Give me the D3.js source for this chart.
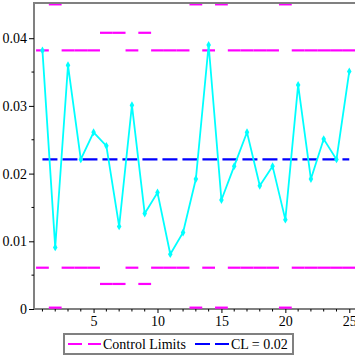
<!DOCTYPE html>
<html>
<head>
<meta charset="utf-8">
<script src="https://cdn.jsdelivr.net/npm/d3@7"></script>
<style>
  body { margin: 0; background: #fff; }
  svg { display: block; }
  text { font-family: "Liberation Serif", "Times New Roman", serif; font-size: 14px; fill: #000; }
</style>
</head>
<body>
<svg id="chart" width="355" height="355"></svg>
<script>
// sample number and the observed rate
const samples = [1, 2, 3, 4, 5, 6, 7, 8, 9, 10, 11, 12, 13, 14, 15, 16, 17, 18, 19, 20, 21, 22, 23, 24, 25];
const rates = [0.0382, 0.0091, 0.0360, 0.0221, 0.0261, 0.0241, 0.0122, 0.0301, 0.0141, 0.0172,
               0.0081, 0.0113, 0.0192, 0.0390, 0.0161, 0.0211, 0.0261, 0.0182, 0.0211, 0.0132,
               0.0331, 0.0192, 0.0251, 0.0221, 0.0351];
// control limits per sample
const upperLimits = [0.0382, 0.0450, 0.0382, 0.0382, 0.0382, 0.0408, 0.0408, 0.0382, 0.0408, 0.0382,
                     0.0382, 0.0382, 0.0450, 0.0382, 0.0450, 0.0382, 0.0382, 0.0382, 0.0382, 0.0450,
                     0.0382, 0.0382, 0.0382, 0.0382, 0.0382];
const lowerLimits = [0.0061, 0.0002, 0.0061, 0.0061, 0.0061, 0.0037, 0.0037, 0.0061, 0.0037, 0.0061,
                     0.0061, 0.0061, 0.0002, 0.0061, 0.0002, 0.0061, 0.0061, 0.0061, 0.0061, 0.0002,
                     0.0061, 0.0061, 0.0061, 0.0061, 0.0061];
const centerLine = 0.0221;
const xTicks = [5, 10, 15, 20, 25];
const yTicks = [0, 0.01, 0.02, 0.03, 0.04];
const yTickLabels = ["0", "0.01", "0.02", "0.03", "0.04"];
const legendLabels = ["Control Limits", "CL = 0.02"];

var svg = d3.select("#chart"),
    margin = { top: 3, right: 1, bottom: 46, left: 34 },
    width = +svg.attr("width") - margin.left - margin.right,
    height = +svg.attr("height") - margin.top - margin.bottom;

var x = d3.scaleLinear().domain([0.34, 25.37]).range([0, width]),
    y = d3.scaleLinear().domain([0, 0.0452]).range([height, 0]);

var g = svg.append("g")
  .attr("transform", "translate(" + margin.left + "," + margin.top + ")");

g.append("clipPath").attr("id", "plotClip")
  .append("rect").attr("y", 1).attr("width", width + margin.right).attr("height", height);

var grey = "#808080";

// top frame line
g.append("line")
  .attr("x1", 0).attr("x2", width + margin.right)
  .attr("y1", 0).attr("y2", 0)
  .attr("stroke", grey).attr("stroke-width", 2);

// x axis
var xAxis = g.append("g")
  .attr("transform", "translate(0," + height + ")")
  .call(d3.axisBottom(x).tickValues(xTicks).tickSize(4).tickPadding(3).tickFormat(d3.format("d")));
xAxis.select(".domain").attr("d", "M0,0H" + (width + margin.right)).attr("stroke", grey).attr("stroke-width", 2);
xAxis.selectAll(".tick line").attr("stroke", "#000");
xAxis.selectAll(".tick text").style("font-size", "14px").style("font-family", "Liberation Serif");
xAxis.selectAll(".minor").data(samples.filter(d => xTicks.indexOf(d) < 0))
  .enter().append("line").attr("class", "minor")
  .attr("x1", d => x(d)).attr("x2", d => x(d))
  .attr("y1", 0).attr("y2", 2.5)
  .attr("stroke", "#000");

// y axis
var yAxis = g.append("g")
  .call(d3.axisLeft(y).tickValues(yTicks).tickSize(5).tickPadding(2)
    .tickFormat((d, i) => yTickLabels[i]));
yAxis.select(".domain").attr("d", "M0,-1V" + (height + 1)).attr("stroke", grey).attr("stroke-width", 2);
yAxis.selectAll(".tick line").attr("stroke", "#000");
yAxis.selectAll(".tick text").style("font-size", "14px").style("font-family", "Liberation Serif");
yAxis.selectAll(".minor").data([0.005, 0.015, 0.025, 0.035])
  .enter().append("line").attr("class", "minor")
  .attr("x1", -2.5).attr("x2", 0)
  .attr("y1", d => y(d)).attr("y2", d => y(d))
  .attr("stroke", "#000");

var plot = g.append("g").attr("clip-path", "url(#plotClip)");

// control limit segments, one per sample
[upperLimits, lowerLimits].forEach(function(limits) {
  plot.selectAll(null)
    .data(samples)
    .enter().append("line")
    .attr("x1", d => x(d - 0.5))
    .attr("x2", d => x(d + 0.5))
    .attr("y1", (d, i) => y(limits[i]))
    .attr("y2", (d, i) => y(limits[i]))
    .attr("stroke", "#ff00ff")
    .attr("stroke-width", 2.2)
    .attr("stroke-dasharray", "14,6");
});

// center line
plot.append("line")
  .attr("x1", x(samples[0])).attr("x2", x(samples[samples.length - 1]))
  .attr("y1", y(centerLine)).attr("y2", y(centerLine))
  .attr("stroke", "#0000ff")
  .attr("stroke-width", 2.2)
  .attr("stroke-dasharray", "15,5");

// observed rates
var line = d3.line()
  .x((d, i) => x(samples[i]))
  .y(d => y(d));

plot.append("path")
  .datum(rates)
  .attr("fill", "none")
  .attr("stroke", "#00ffff")
  .attr("stroke-width", 1.8)
  .attr("d", line);

plot.selectAll(".pt")
  .data(rates)
  .enter().append("path")
  .attr("class", "pt")
  .attr("transform", (d, i) => "translate(" + x(samples[i]) + "," + y(d) + ")")
  .attr("d", d3.symbol().type(d3.symbolDiamond).size(18))
  .attr("fill", "#00ffff");

// legend
var legend = svg.append("g").attr("transform", "translate(64,334)");
legend.append("rect")
  .attr("width", 229).attr("height", 20)
  .attr("fill", "none").attr("stroke", grey).attr("stroke-width", 2);

var items = [
  { label: legendLabels[0], color: "#ff00ff", x0: 4, x1: 37, dash: "14,6", tx: 39 },
  { label: legendLabels[1], color: "#0000ff", x0: 131, x1: 165, dash: "15,5", tx: 167 }
];
items.forEach(function(it) {
  legend.append("line")
    .attr("x1", it.x0).attr("x2", it.x1)
    .attr("y1", 10).attr("y2", 10)
    .attr("stroke", it.color).attr("stroke-width", 2.2)
    .attr("stroke-dasharray", it.dash);
  legend.append("text")
    .attr("x", it.tx).attr("y", 15)
    .text(it.label);
});
</script>
</body>
</html>
